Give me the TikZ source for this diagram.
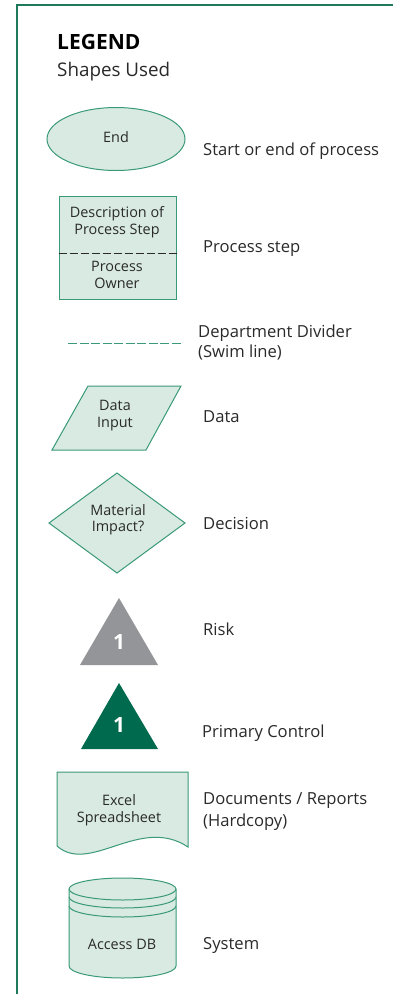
\documentclass[tikz,border=0pt]{standalone}
\usepackage{fontspec}
\setmainfont{Open Sans}
\usetikzlibrary{shapes.geometric}
\definecolor{framegreen}{HTML}{1F7A5C}
\definecolor{shapestroke}{HTML}{3A9A78}
\definecolor{shapefill}{HTML}{D8EAE2}
\definecolor{riskgray}{HTML}{939598}
\definecolor{controlgreen}{HTML}{006A4E}
\definecolor{textgray}{HTML}{2A2A2A}
\begin{document}
\begin{tikzpicture}[x=1pt,y=-1pt,
  shapeline/.style={draw=shapestroke, line width=1pt, fill=shapefill},
  caption/.style={anchor=west, font=\fontsize{16.6}{20}\selectfont, text=textgray, inner sep=0pt, align=left},
  intext/.style={font=\fontsize{14.4}{17}\selectfont, text=textgray, inner sep=0pt, align=center},
  marknum/.style={font=\bfseries\fontsize{21}{21}\selectfont, text=white, inner sep=0pt}]
\useasboundingbox (0,0) rectangle (393,994);
\fill[white] (0,0) rectangle (393,994);

% frame
\coordinate (frameR) at (393,5);
\coordinate (frameC) at (17,5);
\coordinate (frameB) at (17,994);
\draw[framegreen, line width=2pt] (frameR) -- (frameC) -- (frameB);

% heading
\node[anchor=base west, inner sep=0pt, font=\bfseries\fontsize{21}{21}\selectfont] (title) at (57,49) {LEGEND};
\node[anchor=base west, inner sep=0pt, font=\fontsize{18.8}{19}\selectfont, text=textgray] (subtitle) at (57,76) {Shapes Used};

% start / end
\node[ellipse, shapeline, minimum width=138pt, minimum height=63pt, inner sep=0pt] (startend) at (116,139) {};
\node[intext] (endtxt) at (116,137) {End};
\node[caption] (capend) at (203,151) {Start or end of process};

% process step
\node[shapeline, minimum width=117pt, minimum height=103pt, inner sep=0pt] (procbox) at (117.5,247.5) {};
\draw[textgray, line width=0.8pt, dash pattern=on 8pt off 3pt] ([yshift=-5.5pt]procbox.west) -- ([yshift=-5.5pt]procbox.east);
\node[intext] (procdesc) at (117,222) {Description of\\Process Step};
\node[intext] (procowner) at (117,275) {Process\\Owner};
\node[caption] (capproc) at (203,249) {Process step};

% swim line
\coordinate (swimA) at (68,343);
\coordinate (swimB) at (182,343);
\draw[shapestroke, line width=1pt, dash pattern=on 9pt off 2.5pt] (swimA) -- (swimB);
\node[caption] (capswim) at (198,342) {Department Divider\\(Swim line)};

% data
\draw[shapeline] (88,386) -- (181,386) -- (146,450) -- (52,450) -- cycle;
\node[intext] (datain) at (115,416) {Data\\Input};
\node[caption] (capdata) at (203,417) {Data};

% decision
\draw[shapeline] (49,523) -- (117,473) -- (185,523) -- (117,573) -- cycle;
\node[intext, font=\fontsize{14.4}{16}\selectfont] (decide) at (118,520) {Material\\Impact?};
\node[caption] (capdecide) at (203,523) {Decision};

% risk
\fill[riskgray] (119,598) -- (158,665) -- (80,665) -- cycle;
\node[marknum] (risknum) at (119,642) {1};
\node[caption] (caprisk) at (203,629) {Risk};

% primary control
\fill[controlgreen] (119,683) -- (158,749) -- (81,749) -- cycle;
\node[marknum] (ctrlnum) at (119,725) {1};
\node[caption] (capctrl) at (202,733) {Primary Control};

% document
\draw[shapeline] (57,846) -- (57,772) -- (188,772) -- (188,847) .. controls (140,815) and (90,875) .. (57,846) -- cycle;
\node[intext] (doctxt) at (119,810) {Excel\\Spreadsheet};
\node[caption, font=\fontsize{16.6}{22}\selectfont] (capdoc) at (203,812) {Documents / Reports\\(Hardcopy)};

% system
\draw[shapeline] (69,889) -- (69,966) arc[start angle=180, end angle=360, x radius=53.5pt, y radius=12pt]
  -- (176,889) arc[start angle=0, end angle=180, x radius=53.5pt, y radius=11pt] -- cycle;
\draw[shapestroke, line width=1pt] (69,889) arc[start angle=180, end angle=360, x radius=53.5pt, y radius=11pt];
\draw[shapestroke, line width=1pt] (69,897) arc[start angle=180, end angle=360, x radius=53.5pt, y radius=11pt];
\draw[shapestroke, line width=1pt] (69,906) arc[start angle=180, end angle=360, x radius=53.5pt, y radius=11pt];
\node[intext] (dbtxt) at (122,944) {Access DB};
\node[caption] (capdb) at (203,945) {System};
\end{tikzpicture}
\end{document}
